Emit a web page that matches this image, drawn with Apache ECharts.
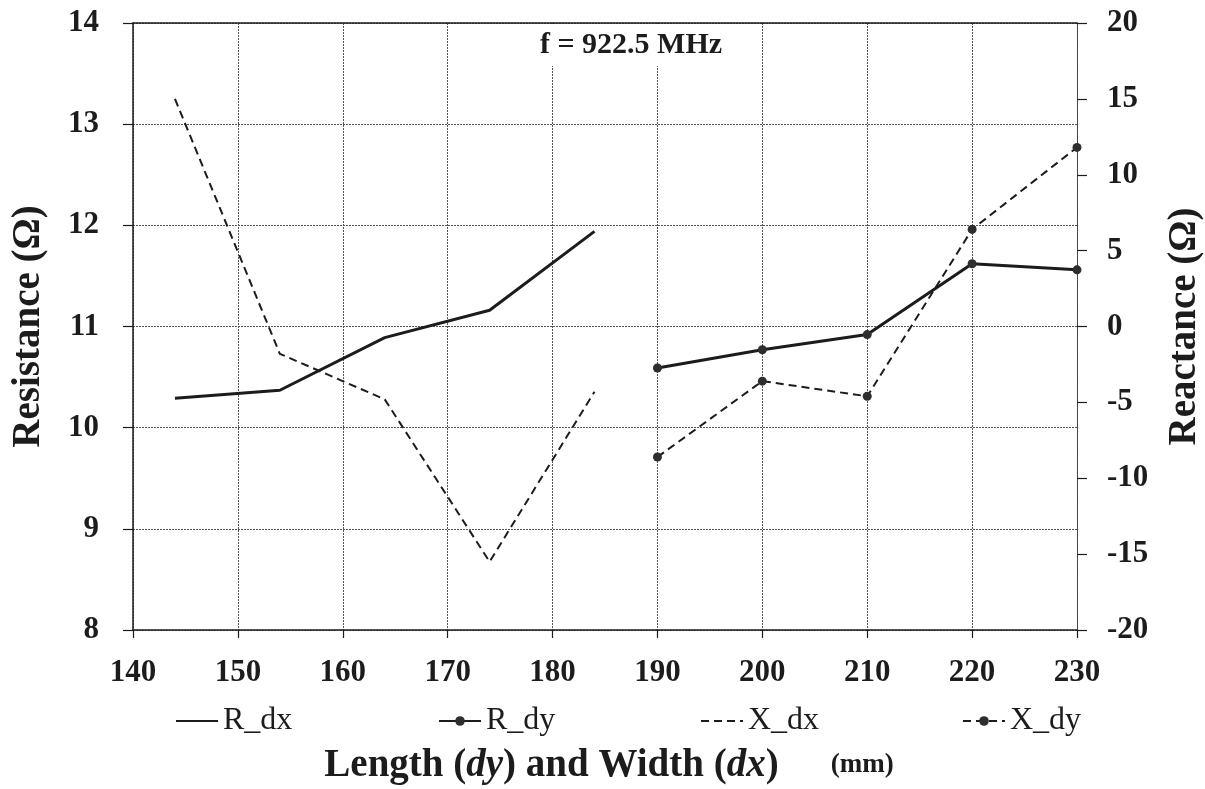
<!DOCTYPE html>
<html>
<head>
<meta charset="utf-8">
<title>Resistance and reactance vs. patch size</title>
<script src="https://cdn.jsdelivr.net/npm/echarts@6/dist/echarts.min.js"></script>
<style>
  html, body { margin: 0; padding: 0; background: #fff; }
  #chart { width: 1205px; height: 789px; }
</style>
</head>
<body>
<div id="chart"></div>
<script>
// Sweep positions (mm)
const dxSizes = [144, 154, 164, 174, 184];
const dySizes = [190, 200, 210, 220, 230];

// Resistance (ohm) – left axis
const rDx = [10.29, 10.37, 10.89, 11.16, 11.94];
const rDy = [10.59, 10.77, 10.92, 11.62, 11.56];

// Reactance (ohm) – right axis
const xDx = [15.0, -1.8, -4.8, -15.5, -4.3];
const xDy = [-8.6, -3.6, -4.6, 6.4, 11.8];

// Axis ranges
const xRange = [140, 230, 10];
const rRange = [8, 14, 1];
const xReactRange = [-20, 20, 5];

const seriesNames = ['R_dx', 'R_dy', 'X_dx', 'X_dy'];

const serif = "'Liberation Serif', 'Times New Roman', serif";
const ink = '#1c1c1c';

const pairs = (xs, ys) => xs.map((x, i) => [x, ys[i]]);

// One legend block per series so the four entries sit on an even spacing
const legendLefts = [170, 433, 695, 957];
const legends = seriesNames.map((name, i) => ({
  left: legendLefts[i],
  top: 700,
  itemWidth: 42,
  itemHeight: 12,
  textStyle: { fontFamily: serif, fontSize: 32, color: ink },
  data: [i % 2 === 0 ? { name, itemStyle: { opacity: 0 } } : { name }]
}));

const chart = echarts.init(document.getElementById('chart'), null, { renderer: 'canvas' });

chart.setOption({
  animation: false,
  backgroundColor: '#fff',
  title: {
    text: 'f = 922.5 MHz',
    left: 621,
    top: 24,
    textAlign: 'center',
    backgroundColor: '#fff',
    padding: [6, 10],
    textStyle: { fontFamily: serif, fontSize: 30, fontWeight: 'bold', color: ink }
  },
  grid: { left: 133, right: 128, top: 23, bottom: 159, containLabel: false, outerBoundsMode: 'none' },
  legend: legends,
  xAxis: [
    {
      type: 'value',
      min: xRange[0], max: xRange[1], interval: xRange[2],
      position: 'bottom',
      name: '{a|Length (}{i|dy}{a|) and Width (}{i|dx}{a|)}{s|(mm)}',
      nameLocation: 'middle',
      nameGap: 116,
      nameTextStyle: {
        padding: [0, 0, 0, 8],
        rich: {
          a: { fontFamily: serif, fontSize: 39, fontWeight: 'bold', color: ink },
          i: { fontFamily: serif, fontSize: 39, fontWeight: 'bold', fontStyle: 'italic', color: ink },
          s: { fontFamily: serif, fontSize: 27, fontWeight: 'bold', color: ink, padding: [0, 0, 0, 52] }
        }
      },
      axisLine: { show: true, onZero: false, lineStyle: { color: ink, width: 1.5 } },
      axisTick: { show: true, inside: false, length: 8, lineStyle: { color: ink, width: 1.2 } },
      axisLabel: { margin: 27, fontFamily: serif, fontSize: 31, fontWeight: 'bold', color: ink },
      splitLine: { show: true, lineStyle: { color: '#555', width: 1, type: [2, 1] } }
    },
    {
      type: 'value',
      min: xRange[0], max: xRange[1], interval: xRange[2],
      position: 'top',
      axisLine: { show: true, onZero: false, lineStyle: { color: ink, width: 1.5 } },
      axisTick: { show: false },
      axisLabel: { show: false },
      splitLine: { show: false }
    }
  ],
  yAxis: [
    {
      type: 'value',
      min: rRange[0], max: rRange[1], interval: rRange[2],
      position: 'left',
      name: 'Resistance (Ω)',
      nameLocation: 'middle',
      nameGap: 85,
      nameTextStyle: { fontFamily: serif, fontSize: 39, fontWeight: 'bold', color: ink },
      axisLine: { show: true, onZero: false, lineStyle: { color: ink, width: 1.5 } },
      axisTick: { show: true, inside: false, length: 10, lineStyle: { color: ink, width: 1.2 } },
      axisLabel: { margin: 34, fontFamily: serif, fontSize: 31, fontWeight: 'bold', color: ink },
      splitLine: { show: true, lineStyle: { color: '#555', width: 1, type: [2, 1] } }
    },
    {
      type: 'value',
      min: xReactRange[0], max: xReactRange[1], interval: xReactRange[2],
      position: 'right',
      name: 'Reactance (Ω)',
      nameLocation: 'middle',
      nameGap: 88,
      nameTextStyle: { fontFamily: serif, fontSize: 39, fontWeight: 'bold', color: ink },
      axisLine: { show: true, onZero: false, lineStyle: { color: '#444', width: 1, type: [2, 1] } },
      axisTick: { show: true, inside: false, length: 10, lineStyle: { color: ink, width: 1.2 } },
      axisLabel: { margin: 30, fontFamily: serif, fontSize: 31, fontWeight: 'bold', color: ink },
      splitLine: { show: false }
    }
  ],
  series: [
    {
      name: seriesNames[0], type: 'line', xAxisIndex: 0, yAxisIndex: 0,
      data: pairs(dxSizes, rDx),
      symbol: 'none',
      lineStyle: { color: ink, width: 3 },
      itemStyle: { color: ink }
    },
    {
      name: seriesNames[1], type: 'line', xAxisIndex: 0, yAxisIndex: 0,
      data: pairs(dySizes, rDy),
      symbol: 'circle', symbolSize: 9,
      lineStyle: { color: ink, width: 3 },
      itemStyle: { color: '#2e2e2e' }
    },
    {
      name: seriesNames[2], type: 'line', xAxisIndex: 0, yAxisIndex: 1,
      data: pairs(dxSizes, xDx),
      symbol: 'none',
      lineStyle: { color: ink, width: 2, type: [8, 5] },
      itemStyle: { color: ink }
    },
    {
      name: seriesNames[3], type: 'line', xAxisIndex: 0, yAxisIndex: 1,
      data: pairs(dySizes, xDy),
      symbol: 'circle', symbolSize: 9,
      lineStyle: { color: ink, width: 2, type: [8, 5] },
      itemStyle: { color: '#2e2e2e' }
    }
  ]
});
</script>
</body>
</html>
